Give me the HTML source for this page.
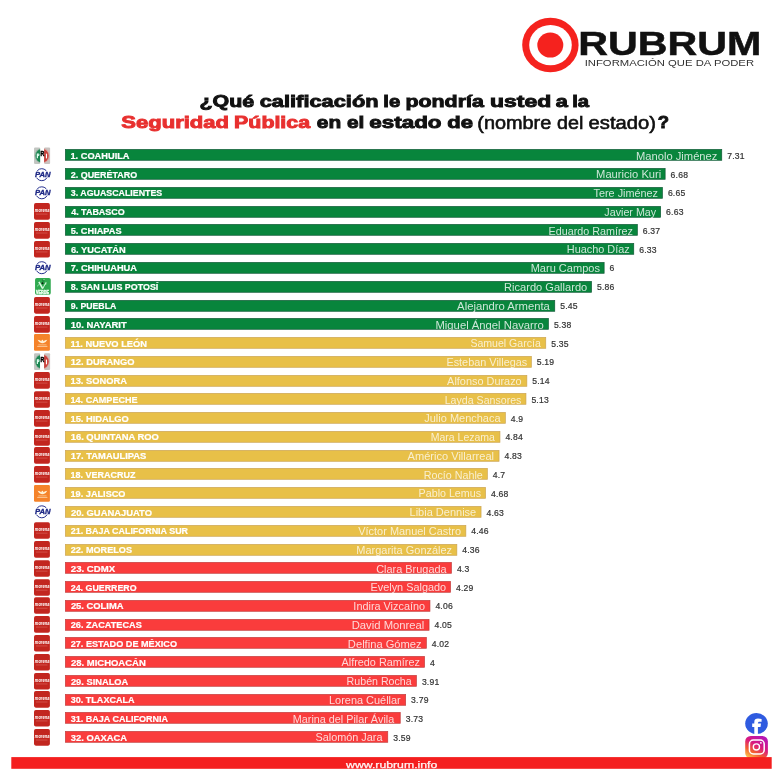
<!DOCTYPE html>
<html><head><meta charset="utf-8">
<style>
html,body{margin:0;padding:0;background:#fff;}
body{width:780px;height:776px;position:relative;overflow:hidden;font-family:"Liberation Sans",sans-serif;}
svg{position:absolute;left:0;top:0;will-change:transform;font-family:"Liberation Sans",sans-serif;}
.g{fill:#08853c;stroke:#0a5230;}
.y{fill:#e8c048;stroke:#c9a04e;}
.r{fill:#fa3c3c;stroke:#bd3636;}
rect.g,rect.y,rect.r{stroke-width:0.7px;stroke-opacity:.9;}
.st{font-size:8.8px;font-weight:bold;fill:#fff;stroke:#fff;stroke-width:0.2px;}
.nm{font-size:10.3px;fill:#fff;fill-opacity:.8;stroke:none;}
.nm.y{fill-opacity:.74;}
.nm.r{fill-opacity:.8;}
.v{font-size:8.6px;fill:#333;stroke:#333;stroke-width:0.2px;letter-spacing:0.2px;}
</style></head><body>
<svg width="780" height="776" viewBox="0 0 780 776">
<defs>
<!-- icons are defined centred on y=155 -->
<g id="mor">
<rect x="34" y="146.7" width="15.9" height="16.6" rx="1.8" fill="#c2261f"/>
<text x="34.8" y="155.9" font-size="5.6" font-weight="bold" font-style="italic" fill="#fff" textLength="14.6" lengthAdjust="spacingAndGlyphs">morena</text>
<rect x="36" y="157.3" width="11.5" height="0.7" fill="#d9625a"/>
</g>
<g id="mc">
<rect x="34" y="146.7" width="15.9" height="16.6" rx="1.2" fill="#f5832a"/>
<path d="M37.6 152.3 Q40 152.7 41.3 153.8 L41.8 152.7 L42.4 152.3 L43 152.7 L43.5 153.8 Q44.8 152.7 47.3 152.3 Q46.2 154.9 43.7 155.5 L42.4 155.9 L41.1 155.5 Q38.7 154.9 37.6 152.3 Z" fill="#fff0d2"/>
<rect x="38.3" y="157" width="8.2" height="0.9" fill="#fbbf86"/>
<rect x="37.2" y="158.5" width="10.2" height="1.1" fill="#fbc08a"/>
</g>
<g id="ver">
<rect x="35.05" y="146.65" width="15.7" height="16.7" rx="1.8" fill="#2fa94f"/>
<path d="M38.9 150.5 L42.7 157.3" stroke="#dcf9e3" stroke-width="1.6" fill="none"/>
<path d="M42.7 157.3 L46.1 150.8" stroke="#dcf9e3" stroke-width="1" fill="none"/>
<path d="M37.1 154.9 L39.3 152.8 M44.2 154.1 L46.7 152.2" stroke="#a9e8b8" stroke-width="0.8" fill="none"/>
<circle cx="43.2" cy="149.2" r="1.3" fill="#1f8a3e"/>
<circle cx="42.5" cy="151.8" r="1" fill="#0a1a0e"/>
<circle cx="44" cy="148.2" r="0.6" fill="#b9ecc0"/>
<text x="36.1" y="162.5" font-size="4.6" font-weight="bold" fill="#e4fbe9" stroke="#e4fbe9" stroke-width="0.5" textLength="12.8" lengthAdjust="spacingAndGlyphs">VERDE</text>
</g>
<g id="pri">
<clipPath id="cl"><rect x="34.05" y="146.7" width="6.05" height="16.8"/></clipPath>
<clipPath id="cr"><rect x="44.15" y="146.7" width="5.95" height="16.8"/></clipPath>
<rect x="34.05" y="146.9" width="6.05" height="16.6" rx="1" fill="#c2c5c1"/>
<rect x="44.15" y="146.9" width="5.95" height="16.6" rx="1" fill="#c9c3c0"/>
<ellipse cx="42.1" cy="155.2" rx="7.5" ry="7.6" fill="#93b3a2" clip-path="url(#cl)"/>
<ellipse cx="42.1" cy="155.2" rx="7.5" ry="7.6" fill="#d9a19d" clip-path="url(#cr)"/>
<ellipse cx="42.1" cy="155.2" rx="6.6" ry="6.8" fill="#1b8752" clip-path="url(#cl)"/>
<ellipse cx="42.1" cy="155.2" rx="6.6" ry="6.8" fill="#c9413c" clip-path="url(#cr)"/>
<path d="M36.75 152.9 H38.1 A1.4 1.45 0 0 1 38.1 155.8 H37.95 V157.7 H36.75 Z" fill="#e6fff4"/><rect x="37.9" y="153.9" width="0.5" height="0.9" fill="#56b98a"/>
<text x="40.55" y="155.9" font-size="6.4" font-weight="bold" fill="#000" stroke="#000" stroke-width="0.45" textLength="3.8" lengthAdjust="spacingAndGlyphs">R</text>
<rect x="45.9" y="153.2" width="1.15" height="4.7" fill="#fff"/>
</g>
<g id="pan">
<circle cx="41.8" cy="155.3" r="6" fill="none" stroke="#27318f" stroke-width="1"/>
<text x="34.9" y="157.9" font-size="8.1" font-weight="bold" font-style="italic" fill="#fff" stroke="#fff" stroke-width="1.5" textLength="15.6" lengthAdjust="spacingAndGlyphs">PAN</text>
<text x="34.9" y="157.9" font-size="8.1" font-weight="bold" font-style="italic" fill="#1c2785" stroke="#1c2785" stroke-width="0.35" textLength="15.6" lengthAdjust="spacingAndGlyphs">PAN</text>
</g>
<linearGradient id="ig" x1="0.15" y1="1" x2="0.75" y2="0">
<stop offset="0" stop-color="#fdd054"/><stop offset="0.3" stop-color="#f4602f"/><stop offset="0.6" stop-color="#d91a7e"/><stop offset="1" stop-color="#b515b8"/>
</linearGradient>
</defs>
<!-- logo -->
<ellipse cx="550.4" cy="45.05" rx="28.2" ry="27.3" fill="#f5221e"/>
<ellipse cx="550.5" cy="45.1" rx="21.3" ry="20.2" fill="#fff"/>
<ellipse cx="550.3" cy="45.1" rx="13" ry="12.5" fill="#f5221e"/>
<text x="578.32" y="54.5" font-size="32.3" font-weight="bold" fill="#111" stroke="#111" stroke-width="0.5" textLength="183.07" lengthAdjust="spacingAndGlyphs">RUBRUM</text>
<text x="584.66" y="65.6" font-size="9.2" fill="#333" textLength="169.39" lengthAdjust="spacingAndGlyphs">INFORMACIÓN QUE DA PODER</text>
<!-- title -->
<text x="199.43" y="107.3" font-size="16.8" font-weight="bold" fill="#111" stroke="#111" stroke-width="0.9" textLength="54.71" lengthAdjust="spacingAndGlyphs">¿Qué</text>
<text x="259.74" y="107.3" font-size="16.8" font-weight="bold" fill="#111" stroke="#111" stroke-width="0.9" textLength="118.83" lengthAdjust="spacingAndGlyphs">calificación</text>
<text x="383.31" y="107.3" font-size="16.8" font-weight="bold" fill="#111" stroke="#111" stroke-width="0.9" textLength="16.9" lengthAdjust="spacingAndGlyphs">le</text>
<text x="405.42" y="107.3" font-size="16.8" font-weight="bold" fill="#111" stroke="#111" stroke-width="0.9" textLength="78.46" lengthAdjust="spacingAndGlyphs">pondría</text>
<text x="490.01" y="107.3" font-size="16.8" font-weight="bold" fill="#111" stroke="#111" stroke-width="0.9" textLength="61.17" lengthAdjust="spacingAndGlyphs">usted</text>
<text x="555.75" y="107.3" font-size="16.8" font-weight="bold" fill="#111" stroke="#111" stroke-width="0.9" textLength="12.12" lengthAdjust="spacingAndGlyphs">a</text>
<text x="572.16" y="107.3" font-size="16.8" font-weight="bold" fill="#111" stroke="#111" stroke-width="0.9" textLength="16.86" lengthAdjust="spacingAndGlyphs">la</text>
<text x="121.35" y="128.1" font-size="16.8" font-weight="bold" fill="#e8302f" stroke="#e8302f" stroke-width="0.9" textLength="107.69" lengthAdjust="spacingAndGlyphs">Seguridad</text>
<text x="234.08" y="128.1" font-size="16.8" font-weight="bold" fill="#e8302f" stroke="#e8302f" stroke-width="0.9" textLength="76.0" lengthAdjust="spacingAndGlyphs">Pública</text>
<text x="316.82" y="128.1" font-size="16.8" font-weight="bold" fill="#111" stroke="#111" stroke-width="0.9" textLength="24.33" lengthAdjust="spacingAndGlyphs">en</text>
<text x="347.04" y="128.1" font-size="16.8" font-weight="bold" fill="#111" stroke="#111" stroke-width="0.9" textLength="17.3" lengthAdjust="spacingAndGlyphs">el</text>
<text x="369.35" y="128.1" font-size="16.8" font-weight="bold" fill="#111" stroke="#111" stroke-width="0.9" textLength="72.22" lengthAdjust="spacingAndGlyphs">estado</text>
<text x="447.28" y="128.1" font-size="16.8" font-weight="bold" fill="#111" stroke="#111" stroke-width="0.9" textLength="25.7" lengthAdjust="spacingAndGlyphs">de</text>
<text x="477.33" y="128.8" font-size="17.6" fill="#111" stroke="#111" stroke-width="0.6" textLength="73.93" lengthAdjust="spacingAndGlyphs">(nombre</text>
<text x="557.08" y="128.8" font-size="17.6" fill="#111" stroke="#111" stroke-width="0.6" textLength="26.33" lengthAdjust="spacingAndGlyphs">del</text>
<text x="588.62" y="128.8" font-size="17.6" fill="#111" stroke="#111" stroke-width="0.6" textLength="67.32" lengthAdjust="spacingAndGlyphs">estado)</text>
<text x="657.89" y="128.1" font-size="16.8" font-weight="bold" fill="#111" stroke="#111" stroke-width="0.9" textLength="11.3" lengthAdjust="spacingAndGlyphs">?</text>
<!-- rows -->
<use href="#pri" y="0.50"/><rect class="g" x="65.35" y="149.40" width="656.4" height="10.9"/><text class="st" x="70.49" y="158.85" textLength="59.04" lengthAdjust="spacingAndGlyphs">1. COAHUILA</text><text class="nm g" x="636.09" y="159.60" textLength="81.28" lengthAdjust="spacingAndGlyphs">Manolo Jiménez</text><text class="v" x="727.2" y="158.85">7.31</text>
<use href="#pan" y="19.40"/><rect class="g" x="65.35" y="168.40" width="599.8" height="10.9"/><text class="st" x="70.75" y="177.62" textLength="66.44" lengthAdjust="spacingAndGlyphs">2. QUERÉTARO</text><text class="nm g" x="596.11" y="178.37" textLength="65.15" lengthAdjust="spacingAndGlyphs">Mauricio Kuri</text><text class="v" x="670.6" y="177.62">6.68</text>
<use href="#pan" y="37.50"/><rect class="g" x="65.35" y="187.40" width="597.1" height="10.9"/><text class="st" x="70.79" y="196.40" textLength="91.45" lengthAdjust="spacingAndGlyphs">3. AGUASCALIENTES</text><text class="nm g" x="593.57" y="197.14" textLength="64.42" lengthAdjust="spacingAndGlyphs">Tere Jiménez</text><text class="v" x="667.9" y="196.40">6.65</text>
<use href="#mor" y="56.40"/><rect class="g" x="65.35" y="206.40" width="595.3" height="10.9"/><text class="st" x="71.15" y="215.17" textLength="53.63" lengthAdjust="spacingAndGlyphs">4. TABASCO</text><text class="nm g" x="604.30" y="215.91" textLength="51.88" lengthAdjust="spacingAndGlyphs">Javier May</text><text class="v" x="666.1" y="215.17">6.63</text>
<use href="#mor" y="75.35"/><rect class="g" x="65.35" y="224.40" width="572.0" height="10.9"/><text class="st" x="70.67" y="233.95" textLength="50.86" lengthAdjust="spacingAndGlyphs">5. CHIAPAS</text><text class="nm g" x="548.58" y="234.68" textLength="84.42" lengthAdjust="spacingAndGlyphs">Eduardo Ramírez</text><text class="v" x="642.8" y="233.95">6.37</text>
<use href="#mor" y="94.30"/><rect class="g" x="65.35" y="243.40" width="568.4" height="10.9"/><text class="st" x="70.91" y="252.72" textLength="54.84" lengthAdjust="spacingAndGlyphs">6. YUCATÁN</text><text class="nm g" x="566.75" y="253.45" textLength="63.05" lengthAdjust="spacingAndGlyphs">Huacho Díaz</text><text class="v" x="639.2" y="252.72">6.33</text>
<use href="#pan" y="112.40"/><rect class="g" x="65.35" y="262.40" width="538.8" height="10.9"/><text class="st" x="70.65" y="271.49" textLength="66.36" lengthAdjust="spacingAndGlyphs">7. CHIHUAHUA</text><text class="nm g" x="530.70" y="272.22" textLength="69.23" lengthAdjust="spacingAndGlyphs">Maru Campos</text><text class="v" x="609.6" y="271.49">6</text>
<use href="#ver" y="131.40"/><rect class="g" x="65.35" y="281.40" width="526.2" height="10.9"/><text class="st" x="70.88" y="290.27" textLength="87.45" lengthAdjust="spacingAndGlyphs">8. SAN LUIS POTOSÍ</text><text class="nm g" x="504.13" y="290.99" textLength="83.07" lengthAdjust="spacingAndGlyphs">Ricardo Gallardo</text><text class="v" x="597.0" y="290.27">5.86</text>
<use href="#mor" y="150.35"/><rect class="g" x="65.35" y="300.40" width="489.4" height="10.9"/><text class="st" x="70.70" y="309.04" textLength="45.59" lengthAdjust="spacingAndGlyphs">9. PUEBLA</text><text class="nm g" x="457.14" y="309.76" textLength="92.77" lengthAdjust="spacingAndGlyphs">Alejandro Armenta</text><text class="v" x="560.2" y="309.04">5.45</text>
<use href="#mor" y="169.40"/><rect class="g" x="65.35" y="318.40" width="483.1" height="10.9"/><text class="st" x="70.66" y="327.82" textLength="56.06" lengthAdjust="spacingAndGlyphs">10. NAYARIT</text><text class="nm g" x="435.48" y="328.53" textLength="108.35" lengthAdjust="spacingAndGlyphs">Miguel Ángel Navarro</text><text class="v" x="553.9" y="327.82">5.38</text>
<use href="#mc" y="187.40"/><rect class="y" x="65.35" y="337.40" width="480.4" height="10.9"/><text class="st" x="70.47" y="346.59" textLength="76.59" lengthAdjust="spacingAndGlyphs">11. NUEVO LEÓN</text><text class="nm y" x="470.42" y="347.30" textLength="70.40" lengthAdjust="spacingAndGlyphs">Samuel García</text><text class="v" x="551.2" y="346.59">5.35</text>
<use href="#pri" y="206.40"/><rect class="y" x="65.35" y="356.40" width="466.0" height="10.9"/><text class="st" x="70.70" y="365.36" textLength="63.70" lengthAdjust="spacingAndGlyphs">12. DURANGO</text><text class="nm y" x="446.41" y="366.07" textLength="80.83" lengthAdjust="spacingAndGlyphs">Esteban Villegas</text><text class="v" x="536.8" y="365.36">5.19</text>
<use href="#mor" y="225.40"/><rect class="y" x="65.35" y="375.40" width="461.5" height="10.9"/><text class="st" x="70.46" y="384.14" textLength="56.56" lengthAdjust="spacingAndGlyphs">13. SONORA</text><text class="nm y" x="447.11" y="384.84" textLength="74.56" lengthAdjust="spacingAndGlyphs">Alfonso Durazo</text><text class="v" x="532.3" y="384.14">5.14</text>
<use href="#mor" y="244.45"/><rect class="y" x="65.35" y="393.40" width="460.6" height="10.9"/><text class="st" x="70.53" y="402.91" textLength="67.10" lengthAdjust="spacingAndGlyphs">14. CAMPECHE</text><text class="nm y" x="444.69" y="403.61" textLength="76.71" lengthAdjust="spacingAndGlyphs">Layda Sansores</text><text class="v" x="531.4" y="402.91">5.13</text>
<use href="#mor" y="263.40"/><rect class="y" x="65.35" y="412.40" width="440.0" height="10.9"/><text class="st" x="70.48" y="421.69" textLength="58.34" lengthAdjust="spacingAndGlyphs">15. HIDALGO</text><text class="nm y" x="424.25" y="422.38" textLength="76.28" lengthAdjust="spacingAndGlyphs">Julio Menchaca</text><text class="v" x="510.8" y="421.69">4.9</text>
<use href="#mor" y="282.40"/><rect class="y" x="65.35" y="431.40" width="434.6" height="10.9"/><text class="st" x="70.68" y="440.46" textLength="88.26" lengthAdjust="spacingAndGlyphs">16. QUINTANA ROO</text><text class="nm y" x="430.70" y="441.15" textLength="64.27" lengthAdjust="spacingAndGlyphs">Mara Lezama</text><text class="v" x="505.4" y="440.46">4.84</text>
<use href="#mor" y="300.40"/><rect class="y" x="65.35" y="450.40" width="433.7" height="10.9"/><text class="st" x="70.68" y="459.23" textLength="75.70" lengthAdjust="spacingAndGlyphs">17. TAMAULIPAS</text><text class="nm y" x="407.64" y="459.92" textLength="86.42" lengthAdjust="spacingAndGlyphs">Américo Villarreal</text><text class="v" x="504.5" y="459.23">4.83</text>
<use href="#mor" y="319.40"/><rect class="y" x="65.35" y="468.40" width="422.0" height="10.9"/><text class="st" x="70.55" y="478.01" textLength="64.89" lengthAdjust="spacingAndGlyphs">18. VERACRUZ</text><text class="nm y" x="423.71" y="478.69" textLength="59.08" lengthAdjust="spacingAndGlyphs">Rocío Nahle</text><text class="v" x="492.8" y="478.01">4.7</text>
<use href="#mc" y="338.40"/><rect class="y" x="65.35" y="487.40" width="420.2" height="10.9"/><text class="st" x="70.52" y="496.78" textLength="54.99" lengthAdjust="spacingAndGlyphs">19. JALISCO</text><text class="nm y" x="418.61" y="497.46" textLength="62.41" lengthAdjust="spacingAndGlyphs">Pablo Lemus</text><text class="v" x="491.0" y="496.78">4.68</text>
<use href="#pan" y="356.50"/><rect class="y" x="65.35" y="506.40" width="415.7" height="10.9"/><text class="st" x="70.92" y="515.56" textLength="81.04" lengthAdjust="spacingAndGlyphs">20. GUANAJUATO</text><text class="nm y" x="409.52" y="516.23" textLength="66.69" lengthAdjust="spacingAndGlyphs">Libia Dennise</text><text class="v" x="486.5" y="515.56">4.63</text>
<use href="#mor" y="375.45"/><rect class="y" x="65.35" y="525.40" width="400.5" height="10.9"/><text class="st" x="70.75" y="534.33" textLength="117.27" lengthAdjust="spacingAndGlyphs">21. BAJA CALIFORNIA SUR</text><text class="nm y" x="358.27" y="535.00" textLength="102.77" lengthAdjust="spacingAndGlyphs">Víctor Manuel Castro</text><text class="v" x="471.3" y="534.33">4.46</text>
<use href="#mor" y="394.40"/><rect class="y" x="65.35" y="544.40" width="391.5" height="10.9"/><text class="st" x="70.73" y="553.10" textLength="61.28" lengthAdjust="spacingAndGlyphs">22. MORELOS</text><text class="nm y" x="356.37" y="553.77" textLength="95.75" lengthAdjust="spacingAndGlyphs">Margarita González</text><text class="v" x="462.3" y="553.10">4.36</text>
<use href="#mor" y="413.45"/><rect class="r" x="65.35" y="562.40" width="386.1" height="10.9"/><text class="st" x="70.89" y="571.88" textLength="44.21" lengthAdjust="spacingAndGlyphs">23. CDMX</text><text class="nm r" x="376.22" y="572.54" textLength="70.38" lengthAdjust="spacingAndGlyphs">Clara Brugada</text><text class="v" x="456.9" y="571.88">4.3</text>
<use href="#mor" y="432.45"/><rect class="r" x="65.35" y="581.40" width="385.2" height="10.9"/><text class="st" x="70.77" y="590.65" textLength="65.84" lengthAdjust="spacingAndGlyphs">24. GUERRERO</text><text class="nm r" x="370.53" y="591.31" textLength="75.59" lengthAdjust="spacingAndGlyphs">Evelyn Salgado</text><text class="v" x="456.0" y="590.65">4.29</text>
<use href="#mor" y="450.50"/><rect class="r" x="65.35" y="600.40" width="364.6" height="10.9"/><text class="st" x="70.92" y="609.43" textLength="52.63" lengthAdjust="spacingAndGlyphs">25. COLIMA</text><text class="nm r" x="353.36" y="610.08" textLength="71.68" lengthAdjust="spacingAndGlyphs">Indira Vizcaíno</text><text class="v" x="435.4" y="609.43">4.06</text>
<use href="#mor" y="469.40"/><rect class="r" x="65.35" y="619.40" width="363.7" height="10.9"/><text class="st" x="70.72" y="628.20" textLength="71.03" lengthAdjust="spacingAndGlyphs">26. ZACATECAS</text><text class="nm r" x="351.74" y="628.85" textLength="72.55" lengthAdjust="spacingAndGlyphs">David Monreal</text><text class="v" x="434.5" y="628.20">4.05</text>
<use href="#mor" y="488.30"/><rect class="r" x="65.35" y="637.40" width="361.0" height="10.9"/><text class="st" x="70.73" y="646.97" textLength="106.28" lengthAdjust="spacingAndGlyphs">27. ESTADO DE MÉXICO</text><text class="nm r" x="347.89" y="647.62" textLength="73.75" lengthAdjust="spacingAndGlyphs">Delfina Gómez</text><text class="v" x="431.8" y="646.97">4.02</text>
<use href="#mor" y="507.30"/><rect class="r" x="65.35" y="656.40" width="359.2" height="10.9"/><text class="st" x="70.90" y="665.75" textLength="74.91" lengthAdjust="spacingAndGlyphs">28. MICHOACÁN</text><text class="nm r" x="341.58" y="666.39" textLength="78.27" lengthAdjust="spacingAndGlyphs">Alfredo Ramírez</text><text class="v" x="430.0" y="665.75">4</text>
<use href="#mor" y="526.30"/><rect class="r" x="65.35" y="675.40" width="351.1" height="10.9"/><text class="st" x="70.94" y="684.52" textLength="57.39" lengthAdjust="spacingAndGlyphs">29. SINALOA</text><text class="nm r" x="346.63" y="685.16" textLength="65.05" lengthAdjust="spacingAndGlyphs">Rubén Rocha</text><text class="v" x="421.9" y="684.52">3.91</text>
<use href="#mor" y="544.35"/><rect class="r" x="65.35" y="694.40" width="340.3" height="10.9"/><text class="st" x="70.74" y="703.30" textLength="63.80" lengthAdjust="spacingAndGlyphs">30. TLAXCALA</text><text class="nm r" x="329.04" y="703.93" textLength="71.73" lengthAdjust="spacingAndGlyphs">Lorena Cuéllar</text><text class="v" x="411.1" y="703.30">3.79</text>
<use href="#mor" y="563.30"/><rect class="r" x="65.35" y="712.40" width="334.9" height="10.9"/><text class="st" x="70.74" y="722.07" textLength="97.40" lengthAdjust="spacingAndGlyphs">31. BAJA CALIFORNIA</text><text class="nm r" x="292.89" y="722.70" textLength="101.34" lengthAdjust="spacingAndGlyphs">Marina del Pilar Ávila</text><text class="v" x="405.7" y="722.07">3.73</text>
<use href="#mor" y="582.35"/><rect class="r" x="65.35" y="731.40" width="322.4" height="10.9"/><text class="st" x="70.82" y="740.84" textLength="56.20" lengthAdjust="spacingAndGlyphs">32. OAXACA</text><text class="nm r" x="315.50" y="741.47" textLength="66.99" lengthAdjust="spacingAndGlyphs">Salomón Jara</text><text class="v" x="393.2" y="740.84">3.59</text>
<!-- social -->
<ellipse cx="756.5" cy="723.6" rx="11.3" ry="10.5" fill="#2f5be0"/>
<path d="M754.3 734.2 V727 H752.2 V723.6 H754.3 V722 C754.3 719.6 755.8 718.6 758 718.6 C759.4 718.6 760.6 718.8 761.6 719 V721.7 H759.8 C758.3 721.7 757.9 722.3 757.9 723.6 H761 L760.5 727 H757.9 V734.2 Z" fill="#fff"/>
<rect x="745.2" y="735.9" width="22.7" height="22.7" rx="5.5" fill="url(#ig)"/>
<rect x="749.4" y="740" width="14.8" height="14" rx="4" fill="none" stroke="#fff" stroke-width="1.5"/>
<circle cx="756.4" cy="746.9" r="3.1" fill="none" stroke="#fff" stroke-width="1.35"/>
<circle cx="760.9" cy="742.8" r="0.9" fill="#fff"/>
<!-- footer -->
<rect x="11.3" y="757.1" width="760.4" height="11.7" fill="#f41f1f"/>
<text x="346.04" y="767.6" font-size="9" fill="#fff" stroke="#fff" stroke-width="0.25" fill-opacity="0.92" stroke-opacity="0.92" textLength="91.3" lengthAdjust="spacingAndGlyphs">www.rubrum.info</text>
</svg>
</body></html>
